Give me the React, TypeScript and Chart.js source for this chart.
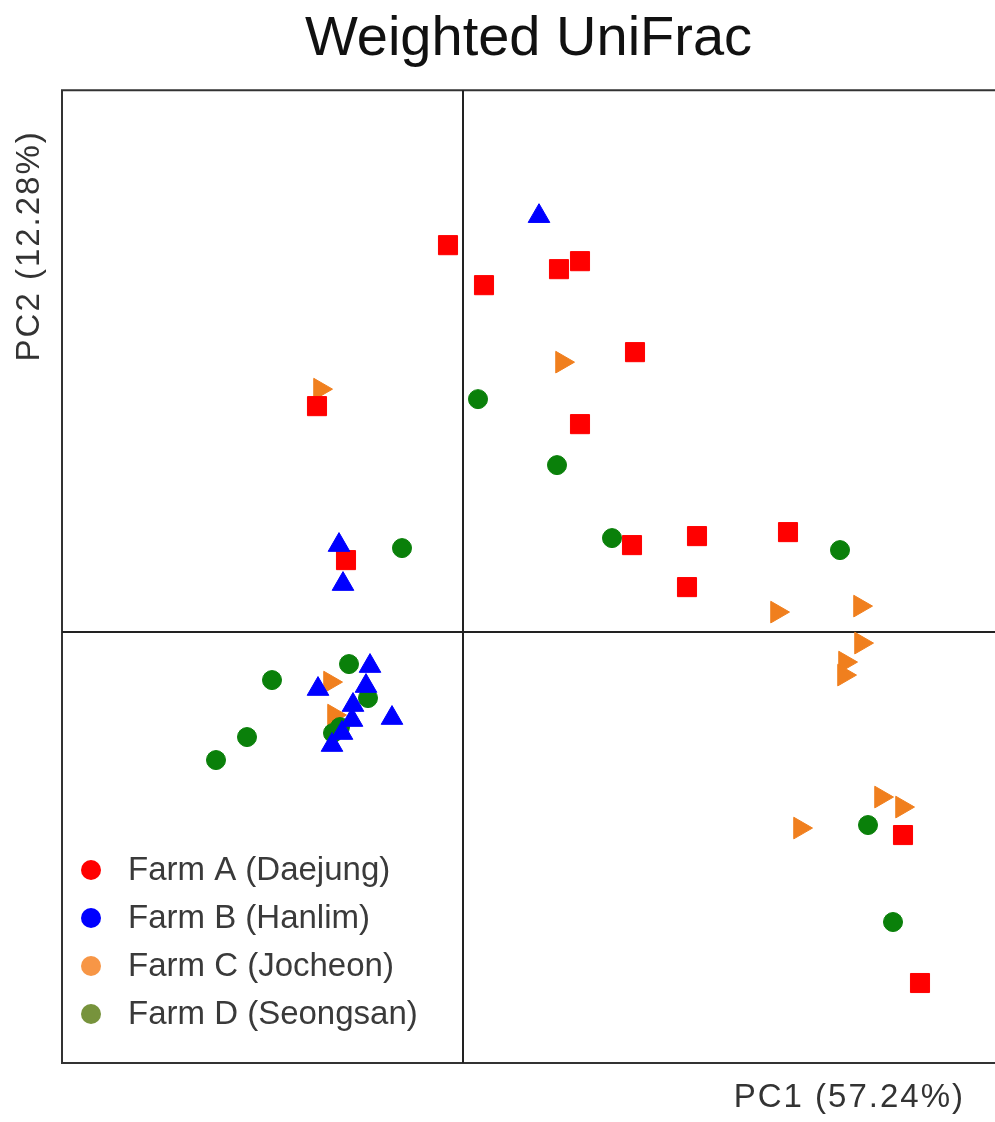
import React, { useEffect, useRef } from 'react';
import { Chart, registerables } from 'chart.js';

Chart.register(...registerables);

// ---- Data (PCoA coordinates) ----
const chartTitle = 'Weighted UniFrac';
const xAxisLabel = 'PC1 (57.24%)';
const yAxisLabel = 'PC2 (12.28%)';

const farmLabels = ['Farm A (Daejung)', 'Farm B (Hanlim)', 'Farm C (Jocheon)', 'Farm D (Seongsan)'];

const farmA_PC1 = [-0.015, 0.021, 0.096, 0.117, 0.172, 0.117, -0.146, -0.117, 0.169, 0.234, 0.325, 0.224, 0.44, 0.457];
const farmA_PC2 = [0.387, 0.347, 0.363, 0.371, 0.28, 0.208, 0.226, 0.072, 0.087, 0.096, 0.1, 0.045, -0.203, -0.351];

const farmB_PC1 = [0.076, -0.124, -0.12, -0.093, -0.145, -0.097, -0.11, -0.071, -0.111, -0.121, -0.131];
const farmB_PC2 = [0.416, 0.087, 0.048, -0.034, -0.057, -0.054, -0.073, -0.086, -0.088, -0.101, -0.113];

const farmC_PC1 = [-0.143, 0.099, -0.133, -0.129, 0.314, 0.397, 0.398, 0.382, 0.381, 0.418, 0.439, 0.337];
const farmC_PC2 = [0.243, 0.27, -0.05, -0.083, 0.02, 0.026, -0.011, -0.03, -0.043, -0.165, -0.175, -0.196];

const farmD_PC1 = [0.015, 0.094, -0.061, 0.149, 0.377, -0.114, -0.191, -0.095, -0.123, -0.13, -0.216, -0.247, 0.405, 0.43];
const farmD_PC2 = [0.233, 0.167, 0.084, 0.094, 0.082, -0.032, -0.048, -0.066, -0.095, -0.101, -0.105, -0.128, -0.193, -0.29];

const pc1Range = [-0.401, 0.532];
const pc2Range = [-0.431, 0.542];

const markerColors = ['#FF0000', '#0000FF', '#F07F1E', '#0A800A'];
const legendColors = ['#FF0000', '#0000FF', '#F79646', '#77933C'];

const FONT = "'Liberation Sans', Arial, sans-serif";

const toPoints = (xs: number[], ys: number[]) => xs.map((x, i) => ({ x, y: ys[i] }));

const framePlugin = {
  id: 'pcoaFrame',
  beforeDatasetsDraw(chart: any) {
    const { ctx, chartArea, scales } = chart;
    const { left, right, top, bottom } = chartArea;
    ctx.save();
    ctx.strokeStyle = '#333333';
    ctx.lineWidth = 2;
    ctx.beginPath();
    ctx.moveTo(right, top);
    ctx.lineTo(left, top);
    ctx.lineTo(left, bottom);
    ctx.lineTo(right, bottom);
    ctx.stroke();
    const x0 = scales.x.getPixelForValue(0);
    const y0 = scales.y.getPixelForValue(0);
    ctx.strokeStyle = '#222222';
    ctx.beginPath();
    ctx.moveTo(x0, top);
    ctx.lineTo(x0, bottom);
    ctx.moveTo(left, y0);
    ctx.lineTo(right, y0);
    ctx.stroke();
    ctx.restore();
  },
  afterDraw(chart: any) {
    const { ctx, chartArea } = chart;
    const { left, right, top, bottom } = chartArea;
    ctx.save();
    // axis labels
    ctx.fillStyle = '#333333';
    ctx.font = `33px ${FONT}`;
    (ctx as any).letterSpacing = '2px';
    ctx.textBaseline = 'middle';
    ctx.textAlign = 'right';
    ctx.fillText(xAxisLabel, right - 30, bottom + 35);
    ctx.save();
    ctx.translate(left - 32, top + 40);
    ctx.rotate(-Math.PI / 2);
    ctx.textAlign = 'right';
    ctx.fillText(yAxisLabel, 0, 0);
    ctx.restore();
    (ctx as any).letterSpacing = '0px';
    // legend
    ctx.font = `33px ${FONT}`;
    ctx.textAlign = 'left';
    farmLabels.forEach((label, i) => {
      const cy = bottom - 193 + i * 48;
      ctx.fillStyle = legendColors[i];
      ctx.beginPath();
      ctx.arc(left + 29, cy, 10, 0, Math.PI * 2);
      ctx.fill();
      ctx.fillStyle = '#3a3a3a';
      ctx.fillText(label, left + 66, cy + 1);
    });
    ctx.restore();
  },
};

export default function App() {
  const canvasRef = useRef<HTMLCanvasElement | null>(null);

  useEffect(() => {
    document.body.style.margin = '0';
    const canvas = canvasRef.current;
    if (!canvas) return;
    const chart = new Chart(canvas, {
      type: 'scatter',
      data: {
        datasets: [
          {
            label: farmLabels[0],
            data: toPoints(farmA_PC1, farmA_PC2),
            pointStyle: 'rect',
            pointRadius: 13.5,
            borderWidth: 1,
            backgroundColor: markerColors[0],
            borderColor: markerColors[0],
            order: 1,
          },
          {
            label: farmLabels[1],
            data: toPoints(farmB_PC1, farmB_PC2),
            pointStyle: 'triangle',
            pointRadius: 12.5,
            borderWidth: 1,
            backgroundColor: markerColors[1],
            borderColor: markerColors[1],
            order: 0,
          },
          {
            label: farmLabels[2],
            data: toPoints(farmC_PC1, farmC_PC2),
            pointStyle: 'triangle',
            pointRotation: 90,
            pointRadius: 12.5,
            borderWidth: 1,
            backgroundColor: markerColors[2],
            borderColor: markerColors[2],
            order: 3,
          },
          {
            label: farmLabels[3],
            data: toPoints(farmD_PC1, farmD_PC2),
            pointStyle: 'circle',
            pointRadius: 9.5,
            borderWidth: 1,
            backgroundColor: markerColors[3],
            borderColor: markerColors[3],
            order: 2,
          },
        ],
      },
      options: {
        animation: false,
        responsive: false,
        devicePixelRatio: 1,
        events: [],
        layout: { autoPadding: false, padding: { left: 62, right: 0, top: 0, bottom: 59 } },
        scales: {
          x: { type: 'linear', display: false, min: pc1Range[0], max: pc1Range[1] },
          y: { type: 'linear', display: false, min: pc2Range[0], max: pc2Range[1] },
        },
        plugins: {
          legend: { display: false },
          tooltip: { enabled: false },
          title: {
            display: true,
            text: chartTitle,
            fullSize: false,
            color: '#111111',
            font: { family: FONT, size: 56, weight: 'normal', lineHeight: 1.2 },
            padding: { top: 6, bottom: 17 },
          },
        },
      },
      plugins: [framePlugin],
    });
    return () => chart.destroy();
  }, []);

  return (
    <div style={{ width: 995, height: 1122, overflow: 'hidden', background: '#fff' }}>
      <canvas ref={canvasRef} width={995} height={1122} style={{ display: 'block' }} />
    </div>
  );
}
